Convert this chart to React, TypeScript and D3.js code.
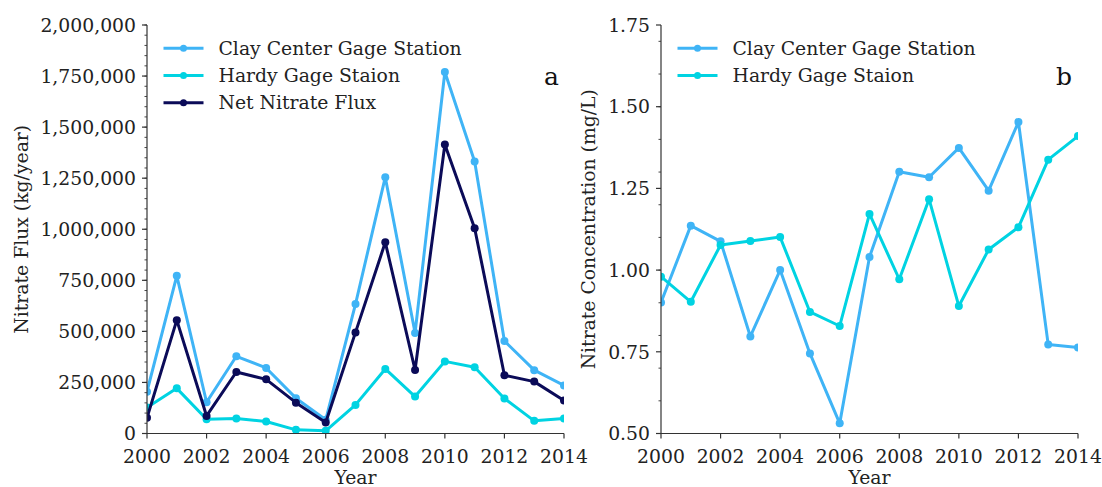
import React from "react";
import * as d3 from "d3";

const years = [2000, 2001, 2002, 2003, 2004, 2005, 2006, 2007, 2008, 2009, 2010, 2011, 2012, 2013, 2014];

const clayFlux = [205000, 772000, 153000, 378000, 321000, 173000, 67000, 634000, 1255000, 492000, 1770000, 1332000, 453000, 310000, 235000];
const hardyFlux = [127000, 221000, 70000, 73000, 59000, 18000, 13000, 140000, 316000, 181000, 353000, 324000, 171000, 62000, 73000];
const netFlux = [77000, 555000, 86000, 301000, 265000, 151000, 54000, 495000, 936000, 311000, 1415000, 1005000, 285000, 254000, 162000];

const clayConc = [0.901, 1.136, 1.088, 0.797, 1.0, 0.745, 0.531, 1.04, 1.301, 1.284, 1.374, 1.243, 1.453, 0.772, 0.763];
const hardyConc = [0.98, 0.903, 1.077, 1.089, 1.101, 0.872, 0.829, 1.172, 0.972, 1.217, 0.89, 1.063, 1.131, 1.338, 1.41];

const xTicks = [2000, 2002, 2004, 2006, 2008, 2010, 2012, 2014];
const fluxTicks = [0, 250000, 500000, 750000, 1000000, 1250000, 1500000, 1750000, 2000000];
const concTicks = [0.5, 0.75, 1.0, 1.25, 1.5, 1.75];

const CLAY = "#3fb4f6";
const HARDY = "#00d3e2";
const NET = "#0b0b58";
const FONT = "DejaVu Serif";
const FS = 18.8;

type Series = { name: string; values: number[]; color: string };

function Panel(props: {
  id: string;
  x0: number;
  x1: number;
  yDomain: [number, number];
  yTicks: number[];
  minorTicks: number[];
  fmt: (v: number) => string;
  series: Series[];
  yLabel: string;
  yLabelX: number;
  letter: string;
  letterX: number;
  legendX: number;
}) {
  const top = 25;
  const bottom = 433.5;
  const x = d3.scaleLinear().domain([2000, 2014]).range([props.x0, props.x1]);
  const y = d3.scaleLinear().domain(props.yDomain).range([bottom, top]);
  const line = d3
    .line<number>()
    .x((_, i) => x(years[i]))
    .y((d) => y(d));
  const clipId = "clip-" + props.id;
  return (
    <g>
      <defs>
        <clipPath id={clipId}>
          <rect x={props.x0} y={top} width={props.x1 - props.x0} height={bottom - top} />
        </clipPath>
      </defs>
      <g clipPath={`url(#${clipId})`}>
        {props.series.map((s) => (
          <g key={s.name}>
            <path d={line(s.values) || ""} fill="none" stroke={s.color} strokeWidth={3} strokeLinejoin="round" />
            {s.values.map((v, i) => (
              <circle key={i} cx={x(years[i])} cy={y(v)} r={4} fill={s.color} />
            ))}
          </g>
        ))}
      </g>
      <line x1={props.x0} x2={props.x0} y1={top} y2={bottom} stroke="#333" strokeWidth={1.2} />
      <line x1={props.x0} x2={props.x1} y1={bottom} y2={bottom} stroke="#333" strokeWidth={1.2} />
      {props.minorTicks.map((t, i) => (
        <line key={"m" + i} x1={props.x0 - 2.5} x2={props.x0} y1={y(t)} y2={y(t)} stroke="#333" strokeWidth={0.9} />
      ))}
      {props.yTicks.map((t, i) => (
        <g key={"y" + i}>
          <line x1={props.x0 - 5} x2={props.x0} y1={y(t)} y2={y(t)} stroke="#333" strokeWidth={1.2} />
          <text x={props.x0 - 11} y={y(t)} dy="0.36em" textAnchor="end" fontFamily={FONT} fontSize={FS} fill="#222">
            {props.fmt(t)}
          </text>
        </g>
      ))}
      {xTicks.map((t, i) => (
        <g key={"x" + i}>
          <line x1={x(t)} x2={x(t)} y1={bottom} y2={bottom + 5} stroke="#333" strokeWidth={1.2} />
          <text x={x(t)} y={463} textAnchor="middle" fontFamily={FONT} fontSize={FS} fill="#222">
            {t}
          </text>
        </g>
      ))}
      <text x={(props.x0 + props.x1) / 2} y={484} textAnchor="middle" fontFamily={FONT} fontSize={FS} fill="#222">
        Year
      </text>
      <text
        transform={`translate(${props.yLabelX},${(top + bottom) / 2}) rotate(-90)`}
        textAnchor="middle"
        dy="0.36em"
        fontFamily={FONT}
        fontSize={FS}
        fill="#222"
      >
        {props.yLabel}
      </text>
      <text x={props.letterX} y={84.5} fontFamily={FONT} fontSize={25} fill="#111">
        {props.letter}
      </text>
      {props.series.map((s, i) => {
        const ly = 48.3 + i * 27.2;
        return (
          <g key={"l" + i}>
            <line x1={props.legendX} x2={props.legendX + 40} y1={ly} y2={ly} stroke={s.color} strokeWidth={3} />
            <circle cx={props.legendX + 20} cy={ly} r={3.5} fill={s.color} />
            <text x={props.legendX + 55} y={ly} dy="0.36em" fontFamily={FONT} fontSize={FS} fill="#222">
              {s.name}
            </text>
          </g>
        );
      })}
    </g>
  );
}

export default function App() {
  const fluxMinor = d3.range(0, 2000001, 50000);
  const concMinor = d3.range(5, 18, 1).map((v) => v / 10).filter((v) => v <= 1.75);
  return (
    <svg width={1102} height={487} style={{ position: "absolute", left: 0, top: 0, background: "#fff" }}>
      <Panel
        id="a"
        x0={147}
        x1={564}
        yDomain={[0, 2000000]}
        yTicks={fluxTicks}
        minorTicks={fluxMinor}
        fmt={d3.format(",")}
        series={[
          { name: "Clay Center Gage Station", values: clayFlux, color: CLAY },
          { name: "Hardy Gage Staion", values: hardyFlux, color: HARDY },
          { name: "Net Nitrate Flux", values: netFlux, color: NET },
        ]}
        yLabel="Nitrate Flux (kg/year)"
        yLabelX={21}
        letter="a"
        letterX={544}
        legendX={163.5}
      />
      <Panel
        id="b"
        x0={661}
        x1={1078}
        yDomain={[0.5, 1.75]}
        yTicks={concTicks}
        minorTicks={concMinor}
        fmt={d3.format(".2f")}
        series={[
          { name: "Clay Center Gage Station", values: clayConc, color: CLAY },
          { name: "Hardy Gage Staion", values: hardyConc, color: HARDY },
        ]}
        yLabel="Nitrate Concentration (mg/L)"
        yLabelX={588}
        letter="b"
        letterX={1056}
        legendX={677.5}
      />
    </svg>
  );
}
